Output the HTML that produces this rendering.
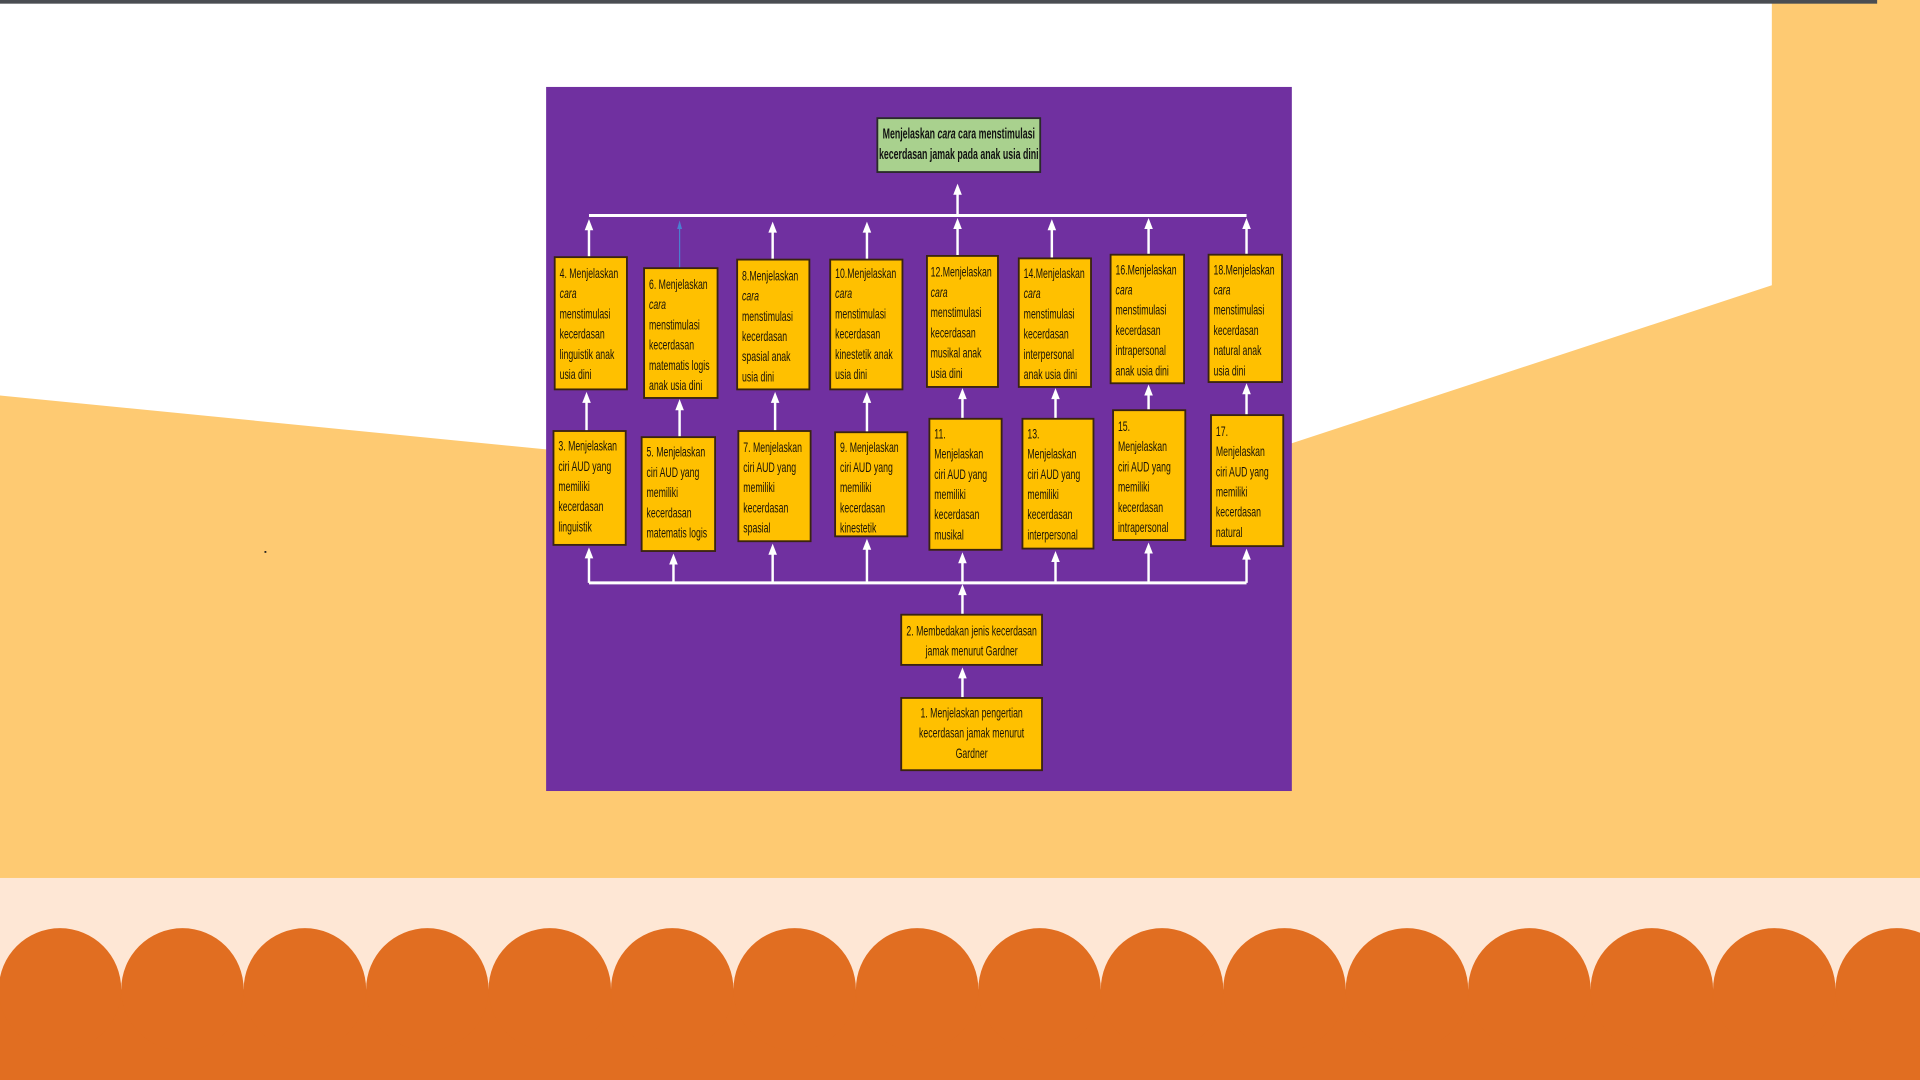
<!DOCTYPE html>
<html><head><meta charset="utf-8">
<style>
html,body{margin:0;padding:0;width:1920px;height:1080px;overflow:hidden;background:#fff}
svg{display:block}
.t{font-family:"Liberation Sans Narrow","Liberation Sans",sans-serif;font-size:11.5px;fill:#1b1408}
.tb{font-family:"Liberation Sans Narrow","Liberation Sans",sans-serif;font-size:12px;font-weight:bold;fill:#111}
</style></head><body>
<svg width="1920" height="1080" viewBox="0 0 1568 882" xmlns="http://www.w3.org/2000/svg">
<!-- background -->
<rect x="0" y="0" width="1568" height="882" fill="#FECA72"/>
<polygon points="0,0 1447,0 1447,233 1055,362 446,367 0,323" fill="#fff"/>
<rect x="0" y="0" width="1533" height="3" fill="#4a4d52"/>
<rect x="0" y="717" width="1568" height="165" fill="#FEE7D5"/>
<rect x="0" y="808" width="1568" height="74" fill="#E16E21"/>
<g fill="#E16E21">
<circle cx="49" cy="808" r="50"/><circle cx="149" cy="808" r="50"/><circle cx="249" cy="808" r="50"/><circle cx="349" cy="808" r="50"/><circle cx="449" cy="808" r="50"/><circle cx="549" cy="808" r="50"/><circle cx="649" cy="808" r="50"/><circle cx="749" cy="808" r="50"/><circle cx="849" cy="808" r="50"/><circle cx="949" cy="808" r="50"/><circle cx="1049" cy="808" r="50"/><circle cx="1149" cy="808" r="50"/><circle cx="1249" cy="808" r="50"/><circle cx="1349" cy="808" r="50"/><circle cx="1449" cy="808" r="50"/><circle cx="1549" cy="808" r="50"/>
</g>
<rect x="216" y="450" width="1.5" height="1.5" fill="#222"/>
<!-- purple panel -->
<rect x="446" y="71" width="609" height="575" fill="#7030A0"/>
<!-- title -->
<rect x="716.5" y="96.5" width="133" height="44" fill="#A9D18E" stroke="#2a2a2a" stroke-width="1.5"/>
<g transform="translate(783,113) scale(0.6,1)"><text class="tb" text-anchor="middle" x="0" y="0">Menjelaskan <tspan font-style="italic">cara</tspan> cara menstimulasi</text><text class="tb" text-anchor="middle" x="0" y="17">kecerdasan jamak pada anak usia dini</text></g>
<!-- connector lines -->
<g stroke="#fff" stroke-width="2" fill="none">
<line x1="481" y1="176" x2="1018" y2="176" stroke-width="2.5"/>
<line x1="481" y1="476" x2="1018" y2="476" stroke-width="2.5"/>
<line x1="782" y1="176" x2="782" y2="157"/>
<line x1="481" y1="210" x2="481" y2="186"/>
<line x1="631" y1="212" x2="631" y2="188"/>
<line x1="708" y1="212" x2="708" y2="188"/>
<line x1="782" y1="209" x2="782" y2="185"/>
<line x1="859" y1="211" x2="859" y2="186"/>
<line x1="938" y1="208" x2="938" y2="185"/>
<line x1="1018" y1="208" x2="1018" y2="185"/>
<line x1="479" y1="352" x2="479" y2="327"/>
<line x1="555" y1="357" x2="555" y2="333"/>
<line x1="633" y1="352" x2="633" y2="327"/>
<line x1="708" y1="353" x2="708" y2="327"/>
<line x1="786" y1="342" x2="786" y2="324"/>
<line x1="862" y1="342" x2="862" y2="324"/>
<line x1="938" y1="335" x2="938" y2="321"/>
<line x1="1018" y1="339" x2="1018" y2="320"/>
<line x1="481" y1="476" x2="481" y2="454"/>
<line x1="550" y1="476" x2="550" y2="459"/>
<line x1="631" y1="476" x2="631" y2="451"/>
<line x1="708" y1="476" x2="708" y2="447"/>
<line x1="786" y1="476" x2="786" y2="458"/>
<line x1="862" y1="476" x2="862" y2="457"/>
<line x1="938" y1="476" x2="938" y2="450"/>
<line x1="1018" y1="476" x2="1018" y2="455"/>
<line x1="786" y1="502" x2="786" y2="484"/>
<line x1="786" y1="570" x2="786" y2="552"/>
</g>
<g fill="#fff">
<polygon points="778.5,159 782,150 785.5,159"/>
<polygon points="477.5,188 481,179 484.5,188"/>
<polygon points="627.5,190 631,181 634.5,190"/>
<polygon points="704.5,190 708,181 711.5,190"/>
<polygon points="778.5,187 782,178 785.5,187"/>
<polygon points="855.5,188 859,179 862.5,188"/>
<polygon points="934.5,187 938,178 941.5,187"/>
<polygon points="1014.5,187 1018,178 1021.5,187"/>
<polygon points="475.5,329 479,320 482.5,329"/>
<polygon points="551.5,335 555,326 558.5,335"/>
<polygon points="629.5,329 633,320 636.5,329"/>
<polygon points="704.5,329 708,320 711.5,329"/>
<polygon points="782.5,326 786,317 789.5,326"/>
<polygon points="858.5,326 862,317 865.5,326"/>
<polygon points="934.5,323 938,314 941.5,323"/>
<polygon points="1014.5,322 1018,313 1021.5,322"/>
<polygon points="477.5,456 481,447 484.5,456"/>
<polygon points="546.5,461 550,452 553.5,461"/>
<polygon points="627.5,453 631,444 634.5,453"/>
<polygon points="704.5,449 708,440 711.5,449"/>
<polygon points="782.5,460 786,451 789.5,460"/>
<polygon points="858.5,459 862,450 865.5,459"/>
<polygon points="934.5,452 938,443 941.5,452"/>
<polygon points="1014.5,457 1018,448 1021.5,457"/>
<polygon points="782.5,486 786,477 789.5,486"/>
<polygon points="782.5,554 786,545 789.5,554"/>
</g>
<line x1="555" y1="219" x2="555" y2="186" stroke="#4a7fd0" stroke-width="1"/>
<polygon points="553,187 555,180 557,187" fill="#4a7fd0"/>
<!-- boxes -->
<g fill="#FFC000" stroke="#3a2410" stroke-width="1.5">
<rect x="453" y="210" width="59" height="108"/>
<rect x="526" y="219" width="60" height="106"/>
<rect x="602" y="212" width="59" height="106"/>
<rect x="678" y="212" width="59" height="106"/>
<rect x="757" y="209" width="58" height="107"/>
<rect x="832" y="211" width="59" height="105"/>
<rect x="907" y="208" width="60" height="105"/>
<rect x="987" y="208" width="60" height="104"/>
<rect x="452" y="352" width="59" height="93"/>
<rect x="524" y="357" width="60" height="93"/>
<rect x="603" y="352" width="59" height="90"/>
<rect x="682" y="353" width="59" height="85"/>
<rect x="759" y="342" width="59" height="107"/>
<rect x="835" y="342" width="58" height="106"/>
<rect x="909" y="335" width="59" height="106"/>
<rect x="989" y="339" width="59" height="107"/>
<rect x="736" y="502" width="115" height="41"/>
<rect x="736" y="570" width="115" height="59"/>
</g>
<!-- top row text -->
<g transform="translate(457,227) scale(0.62,1)" class="t"><text y="0">4. Menjelaskan</text><text y="16.5" font-style="italic">cara</text><text y="33">menstimulasi</text><text y="49.5">kecerdasan</text><text y="66">linguistik anak</text><text y="82.5">usia dini</text></g>
<g transform="translate(530,236) scale(0.62,1)" class="t"><text y="0">6. Menjelaskan</text><text y="16.5" font-style="italic">cara</text><text y="33">menstimulasi</text><text y="49.5">kecerdasan</text><text y="66">matematis logis</text><text y="82.5">anak usia dini</text></g>
<g transform="translate(606,229) scale(0.62,1)" class="t"><text y="0">8.Menjelaskan</text><text y="16.5" font-style="italic">cara</text><text y="33">menstimulasi</text><text y="49.5">kecerdasan</text><text y="66">spasial anak</text><text y="82.5">usia dini</text></g>
<g transform="translate(682,227) scale(0.62,1)" class="t"><text y="0">10.Menjelaskan</text><text y="16.5" font-style="italic">cara</text><text y="33">menstimulasi</text><text y="49.5">kecerdasan</text><text y="66">kinestetik anak</text><text y="82.5">usia dini</text></g>
<g transform="translate(760,226) scale(0.62,1)" class="t"><text y="0">12.Menjelaskan</text><text y="16.5" font-style="italic">cara</text><text y="33">menstimulasi</text><text y="49.5">kecerdasan</text><text y="66">musikal anak</text><text y="82.5">usia dini</text></g>
<g transform="translate(836,227) scale(0.62,1)" class="t"><text y="0">14.Menjelaskan</text><text y="16.5" font-style="italic">cara</text><text y="33">menstimulasi</text><text y="49.5">kecerdasan</text><text y="66">interpersonal</text><text y="82.5">anak usia dini</text></g>
<g transform="translate(911,224) scale(0.62,1)" class="t"><text y="0">16.Menjelaskan</text><text y="16.5" font-style="italic">cara</text><text y="33">menstimulasi</text><text y="49.5">kecerdasan</text><text y="66">intrapersonal</text><text y="82.5">anak usia dini</text></g>
<g transform="translate(991,224) scale(0.62,1)" class="t"><text y="0">18.Menjelaskan</text><text y="16.5" font-style="italic">cara</text><text y="33">menstimulasi</text><text y="49.5">kecerdasan</text><text y="66">natural anak</text><text y="82.5">usia dini</text></g>
<!-- bottom row text -->
<g transform="translate(456,368) scale(0.62,1)" class="t"><text y="0">3. Menjelaskan</text><text y="16.5">ciri AUD yang</text><text y="33">memiliki</text><text y="49.5">kecerdasan</text><text y="66">linguistik</text></g>
<g transform="translate(528,373) scale(0.62,1)" class="t"><text y="0">5. Menjelaskan</text><text y="16.5">ciri AUD yang</text><text y="33">memiliki</text><text y="49.5">kecerdasan</text><text y="66">matematis logis</text></g>
<g transform="translate(607,369) scale(0.62,1)" class="t"><text y="0">7. Menjelaskan</text><text y="16.5">ciri AUD yang</text><text y="33">memiliki</text><text y="49.5">kecerdasan</text><text y="66">spasial</text></g>
<g transform="translate(686,369) scale(0.62,1)" class="t"><text y="0">9. Menjelaskan</text><text y="16.5">ciri AUD yang</text><text y="33">memiliki</text><text y="49.5">kecerdasan</text><text y="66">kinestetik</text></g>
<g transform="translate(763,358) scale(0.62,1)" class="t"><text y="0">11.</text><text y="16.5">Menjelaskan</text><text y="33">ciri AUD yang</text><text y="49.5">memiliki</text><text y="66">kecerdasan</text><text y="82.5">musikal</text></g>
<g transform="translate(839,358) scale(0.62,1)" class="t"><text y="0">13.</text><text y="16.5">Menjelaskan</text><text y="33">ciri AUD yang</text><text y="49.5">memiliki</text><text y="66">kecerdasan</text><text y="82.5">interpersonal</text></g>
<g transform="translate(913,352) scale(0.62,1)" class="t"><text y="0">15.</text><text y="16.5">Menjelaskan</text><text y="33">ciri AUD yang</text><text y="49.5">memiliki</text><text y="66">kecerdasan</text><text y="82.5">intrapersonal</text></g>
<g transform="translate(993,356) scale(0.62,1)" class="t"><text y="0">17.</text><text y="16.5">Menjelaskan</text><text y="33">ciri AUD yang</text><text y="49.5">memiliki</text><text y="66">kecerdasan</text><text y="82.5">natural</text></g>
<!-- bottom boxes text -->
<g transform="translate(793.5,519) scale(0.62,1)" class="t"><text text-anchor="middle" y="0">2. Membedakan jenis kecerdasan</text><text text-anchor="middle" y="16.5">jamak menurut Gardner</text></g>
<g transform="translate(793.5,586) scale(0.62,1)" class="t"><text text-anchor="middle" y="0">1. Menjelaskan pengertian</text><text text-anchor="middle" y="16.5">kecerdasan jamak menurut</text><text text-anchor="middle" y="33">Gardner</text></g>
</svg>
</body></html>
